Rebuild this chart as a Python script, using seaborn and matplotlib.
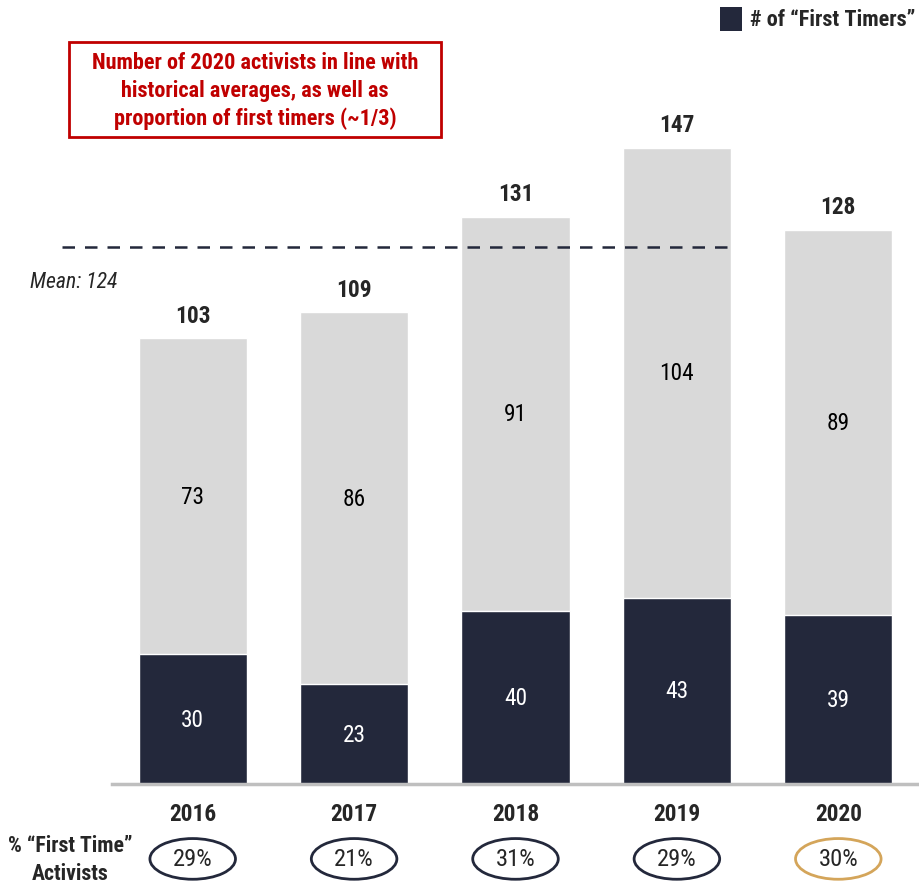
import matplotlib
matplotlib.use("Agg")
import matplotlib.pyplot as plt
from matplotlib import font_manager
from matplotlib.patches import Ellipse, Rectangle
import pandas as pd
import seaborn as sns

# chart data
years = ["2016", "2017", "2018", "2019", "2020"]
first_timers = [30, 23, 40, 43, 39]
repeat_activists = [73, 86, 91, 104, 89]
mean_total = 124
pct_labels = ["29%", "21%", "31%", "29%", "30%"]

DARK = "#23283B"
LIGHT = "#D9D9D9"
RED = "#C00000"
GOLD = "#D4A55A"

sns.set_style("white")
names = {f.name for f in font_manager.fontManager.ttflist}
fam = "Liberation Sans"
for cand in ["Liberation Sans Narrow", "Roboto Condensed", "Open Sans Condensed", "Arial Narrow"]:
    if cand in names:
        fam = cand
        break
narrow = fam != "Liberation Sans"
plt.rcParams["font.family"] = [fam, "DejaVu Sans"]
k = 1.12 if narrow else 1.0


def main():
    df = pd.DataFrame({"Year": years, "First": first_timers, "Repeat": repeat_activists})
    df["Total"] = df["First"] + df["Repeat"]

    fig = plt.figure(figsize=(9.19, 8.87), dpi=100)
    ax = fig.add_axes([112 / 919, 102 / 887, 807 / 919, 785 / 887])

    sns.barplot(data=df, x="Year", y="Total", color=LIGHT, width=0.67,
                saturation=1, ax=ax)
    sns.barplot(data=df, x="Year", y="First", color=DARK, width=0.67,
                saturation=1, ax=ax)

    ax.set_xlim(-0.5, 4.5)
    ax.set_ylim(0, 181.3)
    ax.set_xlabel("")
    ax.set_ylabel("")
    ax.set_xticks([])
    ax.set_yticks([])
    for s in ["top", "right", "left"]:
        ax.spines[s].set_visible(False)
    ax.spines["bottom"].set_color("#BFBFBF")
    ax.spines["bottom"].set_linewidth(2.5)

    fs = 15 * k
    for i, row in df.iterrows():
        ax.text(i, row["First"] / 2, str(row["First"]), ha="center", va="center",
                color="white", fontsize=fs)
        ax.text(i, row["First"] + row["Repeat"] / 2, str(row["Repeat"]),
                ha="center", va="center", color="black", fontsize=fs)
        ax.text(i, row["Total"] + 5.3, str(row["Total"]), ha="center",
                va="center", fontsize=fs, fontweight="bold")
        ax.text(i, -6.9, row["Year"], ha="center", va="center", fontsize=fs,
                fontweight="bold", clip_on=False)
        edge = GOLD if i == len(df) - 1 else DARK
        ax.add_patch(Ellipse((i, -17.3), 0.53, 9.4, fill=False, edgecolor=edge,
                             linewidth=2, clip_on=False))
        ax.text(i, -17.3, pct_labels[i], ha="center", va="center", fontsize=fs * 1.05,
                clip_on=False)

    # mean line
    ax.plot([-0.81, 3.35], [mean_total, mean_total], linestyle=(0, (5, 4)),
            color=DARK, linewidth=1.8, clip_on=False)
    fig.text(30 / 919, 1 - 282 / 887, "Mean: 124", ha="left", va="center",
             fontsize=14 * k, style="italic")

    # callout box
    fig.text(255 / 919, 1 - 91 / 887,
             "Number of 2020 activists in line with\nhistorical averages, as well as\nproportion of first timers (~1/3)",
             ha="center", va="center", color=RED, fontsize=14.3 * k, fontweight="bold",
             linespacing=1.35)
    fig.patches.append(Rectangle((69 / 919, 1 - 138 / 887), 372 / 919, 95 / 887,
                                 transform=fig.transFigure, fill=False,
                                 edgecolor=RED, linewidth=2))

    # legend
    fig.patches.append(Rectangle((720 / 919, 1 - 32 / 887), 22 / 919, 24 / 887,
                                 transform=fig.transFigure, facecolor=DARK,
                                 edgecolor="none"))
    fig.text(915 / 919, 1 - 20 / 887, "# of \u201cFirst Timers\u201d", ha="right",
             va="center", fontsize=14.3 * k, fontweight="bold")

    fig.text(70 / 919, 1 - 860 / 887, "% \u201cFirst Time\u201d\nActivists",
             ha="center", va="center", fontsize=14 * k, fontweight="bold",
             linespacing=1.35)

    fig.savefig("out.png", dpi=100)


if __name__ == "__main__":
    main()
